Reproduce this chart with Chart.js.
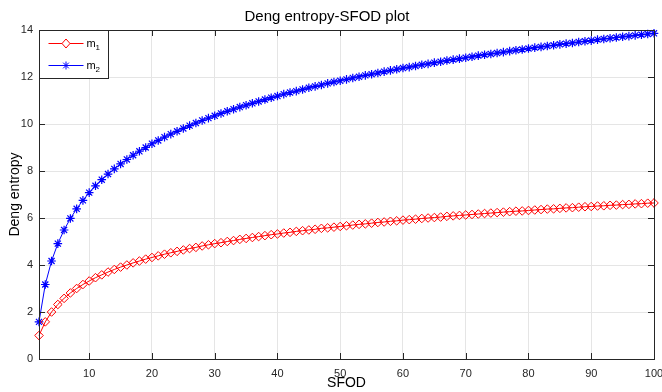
<!DOCTYPE html>
<html>
<head>
<meta charset="utf-8">
<script src="https://cdn.jsdelivr.net/npm/chart.js@4.4.1/dist/chart.umd.min.js"></script>
<style>
  html, body { margin: 0; padding: 0; background: #fff; }
  #wrap { width: 662px; height: 392px; }
</style>
</head>
<body>
<div id="wrap"><canvas id="chart" width="662" height="392"></canvas></div>
<script>
// SFOD values on the x axis
const sfod = [2,3,4,5,6,7,8,9,10,11,12,13,14,15,16,17,18,19,20,21,22,23,24,25,26,27,28,29,30,
  31,32,33,34,35,36,37,38,39,40,41,42,43,44,45,46,47,48,49,50,51,52,53,54,55,56,57,58,59,60,
  61,62,63,64,65,66,67,68,69,70,71,72,73,74,75,76,77,78,79,80,81,82,83,84,85,86,87,88,89,90,
  91,92,93,94,95,96,97,98,99,100];

// Deng entropy
const m1 = [1.00,1.58,2.00,2.32,2.58,2.81,3.00,3.17,3.32,3.46,3.58,3.70,3.81,3.91,4.00,4.09,4.17,4.25,4.32,
  4.39,4.46,4.52,4.58,4.64,4.70,4.75,4.81,4.86,4.91,4.95,5.00,5.04,5.09,5.13,5.17,5.21,5.25,5.29,5.32,
  5.36,5.39,5.43,5.46,5.49,5.52,5.56,5.58,5.61,5.64,5.67,5.70,5.73,5.75,5.78,5.81,5.83,5.86,5.88,5.91,
  5.93,5.95,5.98,6.00,6.02,6.04,6.07,6.09,6.11,6.13,6.15,6.17,6.19,6.21,6.23,6.25,6.27,6.29,6.30,6.32,
  6.34,6.36,6.38,6.39,6.41,6.43,6.44,6.46,6.48,6.49,6.51,6.52,6.54,6.55,6.57,6.58,6.60,6.61,6.63,6.64];

const m2 = [1.58,3.17,4.17,4.91,5.49,5.98,6.39,6.75,7.08,7.37,7.63,7.87,8.09,8.30,8.49,8.67,8.84,9.00,9.16,
  9.30,9.44,9.57,9.69,9.81,9.93,10.04,10.15,10.25,10.35,10.45,10.54,10.63,10.72,10.80,10.88,10.96,11.04,11.12,11.19,
  11.27,11.34,11.40,11.47,11.54,11.60,11.66,11.73,11.79,11.84,11.90,11.96,12.01,12.07,12.12,12.17,12.23,12.28,12.33,12.38,
  12.42,12.47,12.52,12.56,12.61,12.65,12.70,12.74,12.78,12.82,12.86,12.91,12.95,12.98,13.02,13.06,13.10,13.14,13.17,13.21,
  13.25,13.28,13.32,13.35,13.39,13.42,13.45,13.49,13.52,13.55,13.59,13.62,13.65,13.68,13.71,13.74,13.77,13.80,13.83,13.86];

const xTicks = [10,20,30,40,50,60,70,80,90,100];
const yTicks = [0,2,4,6,8,10,12,14];

const FONT = "'Liberation Sans', Arial, sans-serif";
const RED = '#ff0000';
const BLUE = '#0000ff';

// box around the axes with inward tick marks (matlab style)
const framePlugin = {
  id: 'frame',
  afterDatasetsDraw(chart) {
    const { ctx, chartArea: a, scales } = chart;
    ctx.save();
    ctx.lineWidth = 1;
    ctx.strokeStyle = '#262626';
    ctx.beginPath();
    xTicks.forEach(v => {
      const x = Math.round(scales.x.getPixelForValue(v)) + 0.5;
      ctx.moveTo(x, a.bottom); ctx.lineTo(x, a.bottom - 6);
      ctx.moveTo(x, a.top); ctx.lineTo(x, a.top + 6);
    });
    yTicks.forEach(v => {
      const y = Math.round(scales.y.getPixelForValue(v)) + 0.5;
      ctx.moveTo(a.left, y); ctx.lineTo(a.left + 6, y);
      ctx.moveTo(a.right, y); ctx.lineTo(a.right - 6, y);
    });
    ctx.stroke();
    ctx.strokeStyle = '#262626';
    ctx.strokeRect(Math.round(a.left) + 0.5, Math.round(a.top) + 0.5,
      Math.round(a.right - a.left), Math.round(a.bottom - a.top));
    ctx.restore();
  }
};

// legend box in the upper left corner, with subscripts
const legendPlugin = {
  id: 'boxLegend',
  afterDraw(chart) {
    const { ctx, chartArea: a } = chart;
    const x0 = Math.round(a.left) + 0.5, y0 = Math.round(a.top) + 0.5;
    ctx.save();
    ctx.fillStyle = '#fff';
    ctx.fillRect(x0, y0, 69, 48);
    ctx.strokeStyle = '#262626';
    ctx.lineWidth = 1;
    ctx.strokeRect(x0, y0, 69, 48);

    const rows = [
      { name: 'm', sub: '1', color: RED, y: y0 + 13, marker: 'diamond' },
      { name: 'm', sub: '2', color: BLUE, y: y0 + 35, marker: 'star' }
    ];
    rows.forEach(r => {
      ctx.strokeStyle = r.color;
      ctx.lineWidth = 1;
      ctx.beginPath();
      ctx.moveTo(x0 + 9, r.y); ctx.lineTo(x0 + 44, r.y);
      ctx.stroke();
      const cx = x0 + 26.5;
      ctx.beginPath();
      if (r.marker === 'diamond') {
        ctx.fillStyle = '#fff';
        ctx.moveTo(cx, r.y - 4.5); ctx.lineTo(cx + 4, r.y);
        ctx.lineTo(cx, r.y + 4.5); ctx.lineTo(cx - 4, r.y); ctx.closePath();
        ctx.fill();
      } else {
        for (let k = 0; k < 4; k++) {
          const t = k * Math.PI / 4;
          ctx.moveTo(cx - 4 * Math.cos(t), r.y - 4 * Math.sin(t));
          ctx.lineTo(cx + 4 * Math.cos(t), r.y + 4 * Math.sin(t));
        }
      }
      ctx.stroke();
      ctx.fillStyle = '#000';
      ctx.textBaseline = 'alphabetic';
      ctx.font = '11px ' + FONT;
      ctx.fillText(r.name, x0 + 47, r.y + 3);
      ctx.font = '8px ' + FONT;
      ctx.fillText(r.sub, x0 + 56, r.y + 6);
    });
    ctx.restore();
  }
};

new Chart(document.getElementById('chart'), {
  type: 'line',
  data: {
    labels: sfod,
    datasets: [
      {
        label: 'm1',
        data: sfod.map((x, i) => ({ x: x, y: m1[i] })),
        borderColor: RED,
        backgroundColor: 'rgba(255,255,255,0)',
        borderWidth: 1,
        pointStyle: 'rectRot',
        pointRadius: 4.3,
        pointBorderWidth: 1,
        pointBorderColor: RED,
        pointBackgroundColor: 'rgba(255,255,255,0)',
        tension: 0
      },
      {
        label: 'm2',
        data: sfod.map((x, i) => ({ x: x, y: m2[i] })),
        borderColor: BLUE,
        backgroundColor: BLUE,
        borderWidth: 1,
        pointStyle: 'star',
        pointRadius: 4.3,
        pointBorderWidth: 1.2,
        pointBorderColor: BLUE,
        tension: 0
      }
    ]
  },
  options: {
    responsive: false,
    animation: false,
    clip: false,
    layout: { padding: { left: 0, right: 8, top: 0, bottom: 0 } },
    plugins: {
      legend: { display: false },
      tooltip: { enabled: false },
      title: {
        display: true,
        text: 'Deng entropy-SFOD plot',
        color: '#000',
        font: { family: FONT, size: 15, weight: 'normal' },
        padding: { top: 8, bottom: 4 }
      }
    },
    scales: {
      x: {
        type: 'linear',
        min: 2,
        max: 100,
        afterBuildTicks: s => { s.ticks = xTicks.map(v => ({ value: v })); },
        afterFit: s => { s.height = 33; s.paddingLeft = 0; s.paddingRight = 0; },
        grid: { color: '#e5e5e5', drawTicks: false },
        border: { display: false },
        ticks: {
          color: '#262626',
          font: { family: FONT, size: 11 },
          padding: 8,
          maxRotation: 0
        },
        title: {
          display: true,
          text: 'SFOD',
          color: '#000',
          font: { family: FONT, size: 14 },
          padding: { top: 5, bottom: 0 }
        }
      },
      y: {
        min: 0,
        max: 14,
        afterBuildTicks: s => { s.ticks = yTicks.map(v => ({ value: v })); },
        afterFit: s => { s.width = 39; s.paddingTop = 0; s.paddingBottom = 0; },
        grid: { color: '#e5e5e5', drawTicks: false },
        border: { display: false },
        ticks: {
          color: '#262626',
          font: { family: FONT, size: 11 },
          padding: 6
        },
        title: {
          display: true,
          text: 'Deng entropy',
          color: '#000',
          font: { family: FONT, size: 14 },
          padding: { top: 7, bottom: 0 }
        }
      }
    }
  },
  plugins: [framePlugin, legendPlugin]
});
</script>
</body>
</html>
